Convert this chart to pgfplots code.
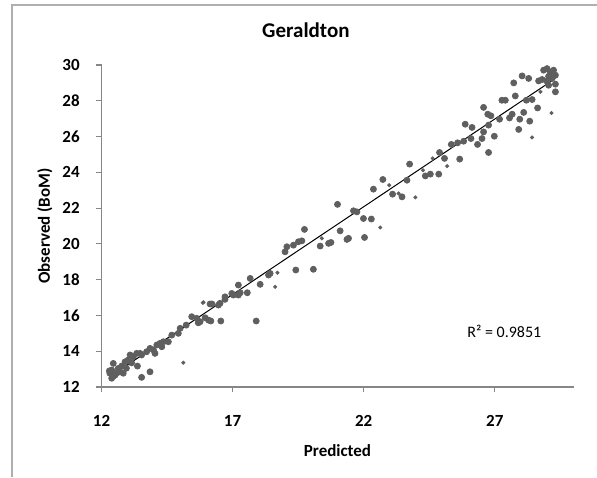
\documentclass[border=0pt]{standalone}
\usepackage{fontspec}
\setmainfont{Carlito}
\usepackage{pgfplots}
\pgfplotsset{compat=1.18}
\definecolor{axisgray}{RGB}{134,134,134}
\definecolor{framegray}{RGB}{175,175,175}
\definecolor{dotgray}{RGB}{95,95,95}

\pgfplotstableread{
x y
16.14 16.64
15.44 15.93
15.63 15.84
15.76 15.65
16.08 15.74
15.23 15.46
15.00 15.28
14.93 15.00
14.68 14.90
14.55 14.53
14.36 14.53
14.23 14.44
14.11 14.35
14.30 14.25
13.98 14.07
14.04 13.88
13.85 14.16
13.72 13.97
13.47 13.88
13.53 13.79
13.34 13.88
13.09 13.79
13.21 13.69
13.02 13.51
12.90 13.41
13.37 13.17
12.77 13.17
12.64 13.04
12.45 13.32
12.39 12.95
12.32 12.77
12.52 12.67
12.83 12.77
12.39 12.49
12.71 12.85
13.85 12.85
13.53 12.54
12.30 12.90
12.45 12.60
12.60 12.80
12.95 13.05
13.15 13.35
15.69 15.59
15.95 15.87
16.17 15.69
16.55 15.69
17.90 15.69
16.21 16.64
16.46 16.58
16.52 16.68
16.71 17.04
16.71 16.90
16.97 17.23
17.03 17.14
17.22 17.14
17.29 17.27
17.22 17.70
17.56 17.27
17.67 18.07
18.05 17.74
18.43 18.35
18.37 18.26
19.00 19.56
19.07 19.84
19.32 19.93
19.41 18.54
19.51 20.12
20.08 18.58
19.64 20.17
19.74 20.81
20.34 19.88
20.66 20.03
20.75 20.08
21.10 20.73
21.36 20.25
21.42 20.31
21.00 22.21
21.61 21.85
21.74 21.79
21.99 21.42
22.29 21.39
22.03 20.36
22.37 23.06
22.73 23.60
23.10 22.78
23.46 22.63
23.65 23.56
23.75 24.46
24.35 23.80
24.54 23.90
24.86 23.90
24.89 25.11
25.08 24.78
25.66 24.74
25.34 25.56
25.58 25.65
25.81 25.74
26.09 25.89
25.87 26.69
26.13 26.51
26.34 25.56
26.51 25.89
26.57 26.26
26.76 25.11
26.73 27.25
26.76 26.64
26.98 26.02
26.85 27.16
26.57 27.63
27.18 26.97
27.56 27.04
27.66 27.25
27.95 26.97
27.91 26.40
28.10 27.35
28.33 26.86
27.27 28.03
27.40 28.03
27.78 28.27
28.20 28.03
28.42 28.07
28.63 27.60
27.72 29.00
28.04 29.39
28.29 29.25
28.67 29.11
28.80 29.19
28.86 29.71
28.99 29.80
29.12 29.61
29.24 29.71
29.31 29.43
29.18 29.25
29.05 29.37
28.97 29.11
29.31 28.93
29.31 28.50
29.05 28.87
}\bigpts

\pgfplotstableread{
x y
15.86 16.71
15.12 13.36
15.89 16.73
18.62 17.60
18.71 18.39
20.40 20.31
22.63 20.92
22.97 23.28
23.97 22.60
23.33 22.82
24.26 24.12
24.63 24.78
25.18 24.35
28.42 25.95
29.16 27.32
28.74 28.50
}\smallpts

\begin{document}
\begin{tikzpicture}
\useasboundingbox (-50.75pt,-45pt) rectangle (247.75pt,193.5pt);
\draw[framegray, line width=0.6pt] (-44.75pt,-45pt) -- (-44.75pt,191pt) -- (247.75pt,191pt);
\begin{axis}[
    scale only axis,
    width=236pt, height=161pt,
    xmin=12, xmax=30,
    ymin=12, ymax=30,
    xtick={12,17,22,27},
    ytick={12,14,...,30},
    axis lines*=left,
    axis line style={axisgray, line width=0.6pt, -},
    tick style={axisgray, line width=0.6pt},
    tick align=outside,
    major tick length=2.5pt,
    clip=false,
    /pgf/number format/assume math mode=true,
    ticklabel style={font=\bfseries\fontsize{8.5}{10}\selectfont, inner sep=0pt},
    xticklabel style={anchor=center, yshift=-14.3pt},
    yticklabel style={anchor=east, xshift=-8.2pt},
    every axis title shift=0pt,
    title={Geraldton},
    title style={font=\bfseries\fontsize{10.5}{12}\selectfont, at={(0.433,1.109)}, anchor=center},
    xlabel={Predicted},
    ylabel={Observed (BoM)},
    label style={font=\bfseries\fontsize{8.5}{10}\selectfont},
    xlabel style={at={(0.5,-0.196)}, anchor=center},
    ylabel style={at={(-0.12,0.5)}, anchor=center},
]
\addplot[only marks, mark=*, mark size=1.5pt, dotgray, mark options={draw=none, fill=dotgray}] table {\bigpts};
\addplot[only marks, mark=*, mark size=0.8pt, dotgray, mark options={draw=none, fill=dotgray}] table {\smallpts};
\addplot[black, line width=0.5pt] coordinates {(12.32,12.58) (29.31,29.25)};
\node[anchor=west, inner sep=0pt, font=\fontsize{8}{10}\selectfont] at (axis cs:25.94,15.13) {R² = 0.9851};
\end{axis}
\end{tikzpicture}
\end{document}
